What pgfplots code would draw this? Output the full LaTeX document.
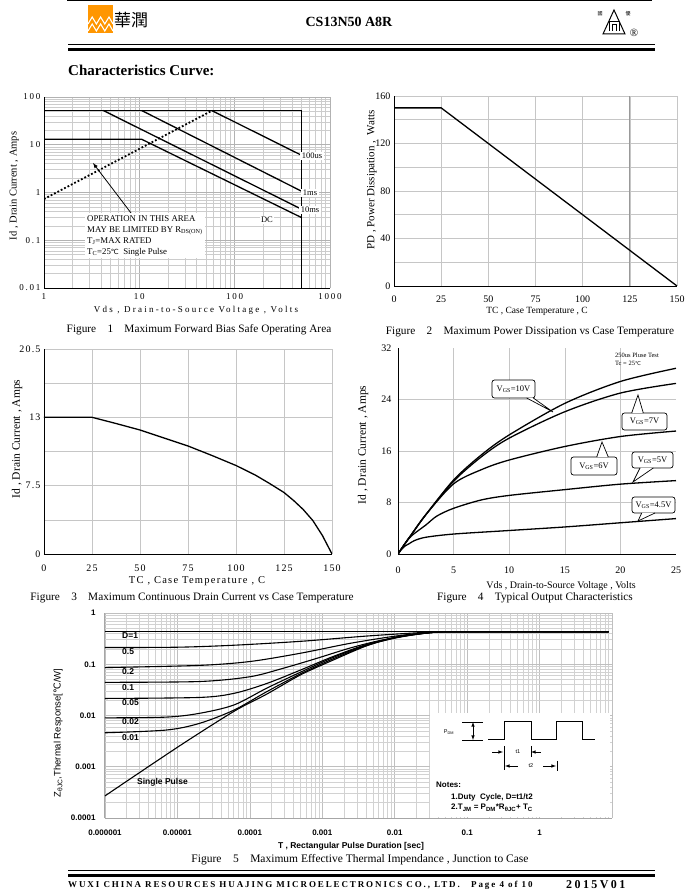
\documentclass[border=0pt]{standalone}
\usepackage{pgfplots}
\pgfplotsset{compat=1.18}
\usepackage{fontspec}
\setmainfont{Liberation Serif}
\newfontfamily\arial{Liberation Sans}
\newfontfamily\spaced[LetterSpace=20]{Liberation Serif}
\newfontfamily\semispaced[LetterSpace=12]{Liberation Serif}
\newfontfamily\wide[LetterSpace=25]{Liberation Serif}
\newfontfamily\foot[LetterSpace=21]{Liberation Serif}
\newfontfamily\footwide[LetterSpace=20]{Liberation Serif}
\newfontfamily\dejavu{DejaVu Sans}
\newfontfamily\cjk{Noto Sans CJK TC}
\newcommand\fs[1]{\fontsize{#1}{#1}\selectfont}
\newcommand\degc{{\dejavu\fontsize{0.8em}{1em}\selectfont ℃}}
\definecolor{crorange}{RGB}{255,150,0}

\pgfplotsset{
  base/.style={scale only axis, anchor=south west, axis lines=left,
    axis line style={-, black, line width=0.9pt},
    major tick length=0pt, minor tick length=0pt,
    /pgf/number format/assume math mode=true,
    tick label style={font=\fs{10}},
    grid style={gray!45, line width=0.6pt}},
  curve/.style={black, line width=1.3pt, no marks},
}

\begin{document}
\begin{tikzpicture}
\path[use as bounding box] (0,0) rectangle (700pt,895pt);

% ---------- Figure 1: SOA
\begin{axis}[base, at={(44pt,607pt)}, width=286pt, height=191pt,
  xmode=log, ymode=log, xmin=1, xmax=1000, ymin=0.01, ymax=100,
  xtick={1,10,100,1000}, xticklabels={1,10,100,1000},
  ytick={0.01,0.1,1,10,100}, yticklabels={0.01,0.1,1,10,100},
  tick label style={font=\spaced\fs{9}},
  xticklabel style={yshift=-2pt},
  grid=both, grid style={gray!40, line width=0.5pt}, major grid style={gray!60}]
\addplot[curve] coordinates {(1,52) (500,52) (500,0.01)};
\addplot[curve] coordinates {(57.5,52) (500,6.05)};
\addplot[curve] coordinates {(10.6,52) (500,1.07)};
\addplot[curve] coordinates {(4.2,52) (500,0.45)};
\addplot[curve] coordinates {(1,13) (10.6,13) (500,0.30)};
\addplot[black, line width=1.8pt, dotted, no marks] coordinates {(1,0.73) (56,50)};
\end{axis}

% ---------- Figure 2: power dissipation
\begin{axis}[base, at={(394pt,609pt)}, width=283pt, height=190pt,
  xmin=0, xmax=150, ymin=0, ymax=160,
  xtick={0,25,...,150}, ytick={0,40,...,160}, minor ytick={20,60,100,140},
  xticklabel style={yshift=-6pt},
  grid=both, minor grid style={gray!45, line width=0.6pt}]
\draw[gray!80, line width=1pt] (axis cs:125,0) -- (axis cs:125,160);
\addplot[curve] coordinates {(0,150) (25,150) (150,0)};
\end{axis}

% ---------- Figure 3: drain current vs Tc
\begin{axis}[base, at={(44pt,341pt)}, width=288pt, height=205pt,
  xmin=0, xmax=150, ymin=0, ymax=20.5,
  xtick={0,25,...,150}, ytick={0,6.8333,13.6667,20.5}, yticklabels={0,7.5,13,20.5},
  minor ytick={3.4167,10.25,17.0833},
  tick label style={font=\semispaced\fs{10}},
  xticklabel style={yshift=-7pt},
  grid=both, minor grid style={gray!45, line width=0.6pt}]
\addplot[curve] coordinates {(0,13.67) (25,13.67) (37.5,13.05) (50,12.4) (62.5,11.6)
  (75,10.8) (87.5,9.85) (100,8.85) (110,7.9) (117.5,7.05) (125,6.15) (130,5.35)
  (135,4.45) (140,3.35) (145,1.85) (150,0)};
\end{axis}

% ---------- Figure 4: output characteristics
\begin{axis}[base, at={(398pt,341pt)}, width=278pt, height=206pt,
  xmin=0, xmax=25, ymin=0, ymax=32,
  xtick={0,5,...,25}, ytick={0,8,...,32},
  minor xtick={5,10,15,20}, minor ytick={8,16,24},
  xticklabel style={yshift=-9pt}, yticklabel style={xshift=-3pt},
  grid=minor, minor grid style={gray!45, line width=0.6pt}]
\addplot[curve, smooth] coordinates {(0,0) (0.5,1.3) (1.2,3.0) (2.5,6.1) (5,11.5)
  (7.5,15.4) (10,18.5) (15,23.4) (20,26.8) (25,28.85)};
\addplot[curve, smooth] coordinates {(0,0) (0.5,1.3) (1.2,3.0) (2.5,6.1) (5,11.3)
  (7.5,15.1) (10,18.0) (15,22.1) (20,25.0) (25,26.5)};
\addplot[curve, smooth] coordinates {(0,0) (0.5,1.3) (1.2,3.0) (2.5,6.1) (5,10.9)
  (7.5,13.1) (10,14.6) (15,16.7) (20,18.25) (25,19.1)};
\addplot[curve, smooth] coordinates {(0,0) (0.5,1.3) (1.2,2.8) (2.5,4.5) (3.5,5.9)
  (5,7.1) (7.5,8.4) (10,9.1) (15,10.0) (20,10.85) (25,11.4)};
\addplot[curve, smooth] coordinates {(0,0) (0.3,0.7) (0.6,1.2) (1,1.6) (1.5,2.1)
  (2.5,2.6) (5,3.1) (10,3.65) (15,4.2) (20,4.85) (25,5.5)};
\end{axis}

% ---------- Figure 5: transient thermal impedance
\begin{axis}[base, at={(105pt,77pt)}, width=507pt, height=205pt,
  xmode=log, ymode=log, xmin=1e-6, xmax=10, ymin=1e-4, ymax=1,
  xtick={1e-6,1e-5,1e-4,1e-3,1e-2,1e-1,1,10},
  xticklabels={0.000001,0.00001,0.0001,0.001,0.01,0.1,1,},
  ytick={1e-4,1e-3,1e-2,1e-1,1}, yticklabels={0.0001,0.001,0.01,0.1,1},
  axis line style={-, gray!70, line width=1pt},
  tick label style={font=\arial\bfseries\fs{8}},
  xticklabel style={yshift=-8pt}, yticklabel style={xshift=-6pt},
  grid=both, grid style={gray!35, line width=0.6pt}, major grid style={gray!50}]
\fill[white] (rel axis cs:0.641,0.004) rectangle (rel axis cs:0.996,0.512);
\addplot[curve, line width=1.1pt] coordinates {(1e-6,0.43) (9,0.43)};
\addplot[curve, line width=1.1pt, smooth] coordinates {(1e-6,0.212) (1e-5,0.215) (6e-5,0.235)
  (5e-4,0.28) (4e-3,0.354) (0.02,0.41) (0.05,0.43) (9,0.43)};
\addplot[curve, line width=1.1pt, smooth] coordinates {(1e-6,0.086) (2e-5,0.095) (1e-4,0.113)
  (5e-4,0.164) (2.5e-3,0.258) (0.012,0.365) (0.04,0.425) (0.08,0.43) (9,0.43)};
\addplot[curve, line width=1.1pt, smooth] coordinates {(1e-6,0.0444) (2e-5,0.046) (1e-4,0.057)
  (2.9e-4,0.0836) (8.5e-4,0.131) (2.5e-3,0.21) (7e-3,0.30) (0.025,0.40) (0.07,0.43) (9,0.43)};
\addplot[curve, line width=1.1pt, smooth] coordinates {(1e-6,0.0215) (2e-5,0.0225) (6e-5,0.027)
  (1.7e-4,0.042) (5e-4,0.077) (1.4e-3,0.141) (4.2e-3,0.246) (0.012,0.35) (0.035,0.42)
  (0.08,0.43) (9,0.43)};
\addplot[curve, line width=1.1pt, smooth] coordinates {(1e-6,0.009) (7e-6,0.0093) (2e-5,0.011)
  (6e-5,0.016) (1.7e-4,0.034) (5e-4,0.07) (1.4e-3,0.135) (4.2e-3,0.24) (0.012,0.345)
  (0.035,0.42) (0.08,0.43) (9,0.43)};
\addplot[curve, line width=1.1pt, smooth] coordinates {(1e-6,0.0046) (7e-6,0.0052) (2e-5,0.007)
  (6e-5,0.0127) (1.7e-4,0.029) (5e-4,0.065) (1.4e-3,0.127) (4.2e-3,0.235) (0.012,0.34)
  (0.035,0.42) (0.08,0.43) (9,0.43)};
\addplot[curve, line width=1.1pt, smooth] coordinates {(1e-6,0.00027) (1e-5,0.0024) (6e-5,0.012)
  (1.7e-4,0.026) (5e-4,0.062) (1.4e-3,0.12) (4.2e-3,0.232) (0.012,0.355) (0.035,0.42)
  (0.08,0.43) (9,0.43)};
\end{axis}

% ---------- page furniture, in pixel coordinates (y down)
\begin{scope}[x=1pt, y=-1pt, shift={(0,895pt)}]
% header
\draw[line width=1pt] (67,1) -- (652,1);
\fill[crorange] (88,5) rectangle (113,33);
\draw[white, line width=1.1pt] (88,24) -- (92.2,17) -- (96.4,24) -- (100.6,17) -- (104.8,24) -- (109,17) -- (113,24);
\draw[white, line width=1.1pt] (88,31) -- (92.2,24) -- (96.4,31) -- (100.6,24) -- (104.8,31) -- (109,24) -- (113,31);
\node[anchor=west, inner sep=0] at (114,20) {\cjk\fs{17}華潤};
\node at (349,22) {\bfseries\fs{14}CS13N50 A8R};
\draw[line width=1pt] (603,34) -- (614,10) -- (625,34) -- cycle;
\draw[line width=0.9pt] (609,31) -- (609,21) -- (619,21) -- (619,31);
\draw[line width=0.7pt] (612,31) -- (612,24) -- (616,24) -- (616,31);
\node at (600,14) {\cjk\fs{5}國};
\node at (628,14) {\cjk\fs{5}優};
\node at (634,33) {\fs{11}®};
\draw[line width=1pt] (68,44.5) -- (655,44.5);
\draw[line width=2.6pt] (68,49.5) -- (655,49.5);
\node[anchor=west, inner sep=0] at (68,70) {\bfseries\fs{15}Characteristics Curve:};

% figure 1 notes
\node[fill=white, anchor=north west, align=left, inner sep=2pt, font={\fontsize{8.8}{11}\selectfont}] at (85,213)
  {OPERATION IN THIS AREA\\MAY BE LIMITED BY R\textsubscript{DS(ON)}\\
   T\textsubscript{J}=MAX RATED\\T\textsubscript{C}=25\degc\ \ Single Pulse};
\draw[-latex, line width=0.8pt] (131,213) -- (93,163);
\node[fill=white, inner sep=1.5pt, font=\fs{8.5}] at (312,156) {100us};
\node[fill=white, inner sep=1.5pt, font=\fs{8.5}] at (310,193) {1ms};
\node[fill=white, inner sep=1.5pt, font=\fs{8.5}] at (310,210) {10ms};
\node[fill=white, inner sep=1.5pt, font=\fs{8.5}] at (267,220) {DC};
\node[rotate=90, font=\fs{10.5}] at (14,186) {Id , Drain Current , Amps};
\node[font=\wide\fs{9}] at (196,310) {Vds , Drain-to-Source Voltage , Volts};
\node[font=\fs{11.3}] at (199,330) {Figure\quad 1\quad Maximum Forward Bias Safe Operating Area};

% figure 2 labels
\node[rotate=90, font=\fs{11}] at (372,180) {PD , Power Dissipation ,\ \ Watts};
\node[font=\fs{9.5}] at (537,311) {TC , Case Temperature , C};
\node[font=\fs{11.3}] at (530,332) {Figure\quad 2\quad Maximum Power Dissipation vs Case Temperature};

% figure 3 labels
\node[rotate=90, font=\fs{11.5}] at (17,439) {Id , Drain Current , Amps};
\node[font=\semispaced\fs{10.5}] at (197,581) {TC , Case Temperature , C};
\node[font=\fs{11.3}] at (192,598) {Figure\quad 3\quad Maximum Continuous Drain Current vs Case Temperature};

% figure 4 labels and callouts
\node[rotate=90, font=\fs{11.5}] at (363,445) {Id , Drain Current , Amps};
\node[font=\fs{10}] at (561,586) {Vds , Drain-to-Source Voltage , Volts};
\node[font=\fs{11.3}] at (535,598) {Figure\quad 4\quad Typical Output Characteristics};
\node[anchor=west, inner sep=0, font=\fs{6.5}] at (615,355) {250us Pluse Test};
\node[anchor=west, inner sep=0, font=\fs{6.5}] at (615,363) {Tc = 25\degc};
\foreach \xa/\ya/\xb/\yb/\pa/\pb/\py/\tx/\ty/\lab in {
  492/380/535/398/526.7/533.3/398/553/412/10V,
  622/413/667/430/631.7/643.3/413/638/395/7V,
  571/457/617/475/596.7/608.3/457/602/442/6V,
  632/452/673/468/640/653.3/468/633/482/5V,
  632/497/675/513/641.7/655/513/638/521/4.5V}{
  \draw[fill=white, rounded corners=2.5pt, line width=0.7pt] (\xa,\ya) rectangle (\xb,\yb);
  \fill[white] (\pa+0.6,\py) -- (\tx,\ty) -- (\pb-0.6,\py) -- cycle;
  \draw[line width=0.7pt] (\pa,\py) -- (\tx,\ty) -- (\pb,\py);
  \node[font=\fs{8.5}, inner sep=0] at ({(\xa+\xb)/2},{(\ya+\yb)/2}) {V\textsubscript{GS}=\lab};
}

% figure 5 labels and notes
\foreach \yy/\lab in {636/D=1, 652/0.5, 672/0.2, 688/0.1, 703/0.05, 722/0.02, 738/0.01}
  \node[anchor=west, inner sep=0, font=\arial\bfseries\fs{8.5}] at (122,\yy) {\lab};
\node[anchor=west, inner sep=0, font=\arial\bfseries\fs{8.5}] at (137,782) {Single Pulse};
\node[rotate=90, font=\arial\fs{9.5}] at (58,733) {Z\textsubscript{θJC},Thermal Response[{\dejavu ℃}/W]};
\node[font=\arial\bfseries\fs{8.5}] at (351,846) {T , Rectangular Pulse Duration [sec]};
\node[font=\fs{11.5}] at (360,860) {Figure\quad 5\quad Maximum Effective Thermal Impendance , Junction to Case};
\draw[line width=1pt] (488,740) -- (504,740) -- (504,722) -- (531,722) -- (531,740) -- (556,740)
  -- (556,722) -- (582,722) -- (582,740) -- (595,740);
\draw[line width=0.7pt] (462,722) -- (483,722) (462,740) -- (483,740);
\draw[latex-latex, line width=0.6pt] (473,722) -- (473,740);
\node[font=\arial\fs{5.5}] at (449,732) {P\textsubscript{DM}};
\draw[-latex, line width=0.6pt] (492,752) -- (503,752);
\draw[line width=0.6pt] (504,746) -- (504,770);
\draw[latex-, line width=0.6pt] (531,752) -- (541,752);
\draw[line width=0.6pt] (531,746) -- (531,757);
\node[font=\arial\fs{5.5}] at (518,752) {t1};
\draw[latex-, line width=0.6pt] (505,766) -- (518,766);
\node[font=\arial\fs{5.5}] at (531,766) {t2};
\draw[-latex, line width=0.6pt] (543,766) -- (556,766);
\draw[line width=0.6pt] (557,761) -- (557,771);
\node[anchor=west, inner sep=0, font=\arial\bfseries\fs{8}] at (436,785) {Notes:};
\node[anchor=west, inner sep=0, font=\arial\bfseries\fs{8}] at (451,797) {1.Duty\ \ Cycle, D=t1/t2};
\node[anchor=west, inner sep=0, font=\arial\bfseries\fs{8}] at (451,808)
  {2.T\textsubscript{JM} = P\textsubscript{DM}*R\textsubscript{θJC}+ T\textsubscript{C}};

% footer
\draw[line width=1pt] (68,870.5) -- (655,870.5);
\draw[line width=2.6pt] (68,875.5) -- (655,875.5);
\node[anchor=west, inner sep=0, font=\foot\bfseries\fs{9}] at (68,885) {WUXI CHINA RESOURCES HUAJING MICROELECTRONICS CO., LTD.};
\node[anchor=west, inner sep=0, font=\foot\bfseries\fs{9}] at (471,885) {Page 4 of 10};
\node[anchor=west, inner sep=0, font=\footwide\bfseries\fs{12}] at (566,885) {2015V01};
\end{scope}
\end{tikzpicture}
\end{document}
